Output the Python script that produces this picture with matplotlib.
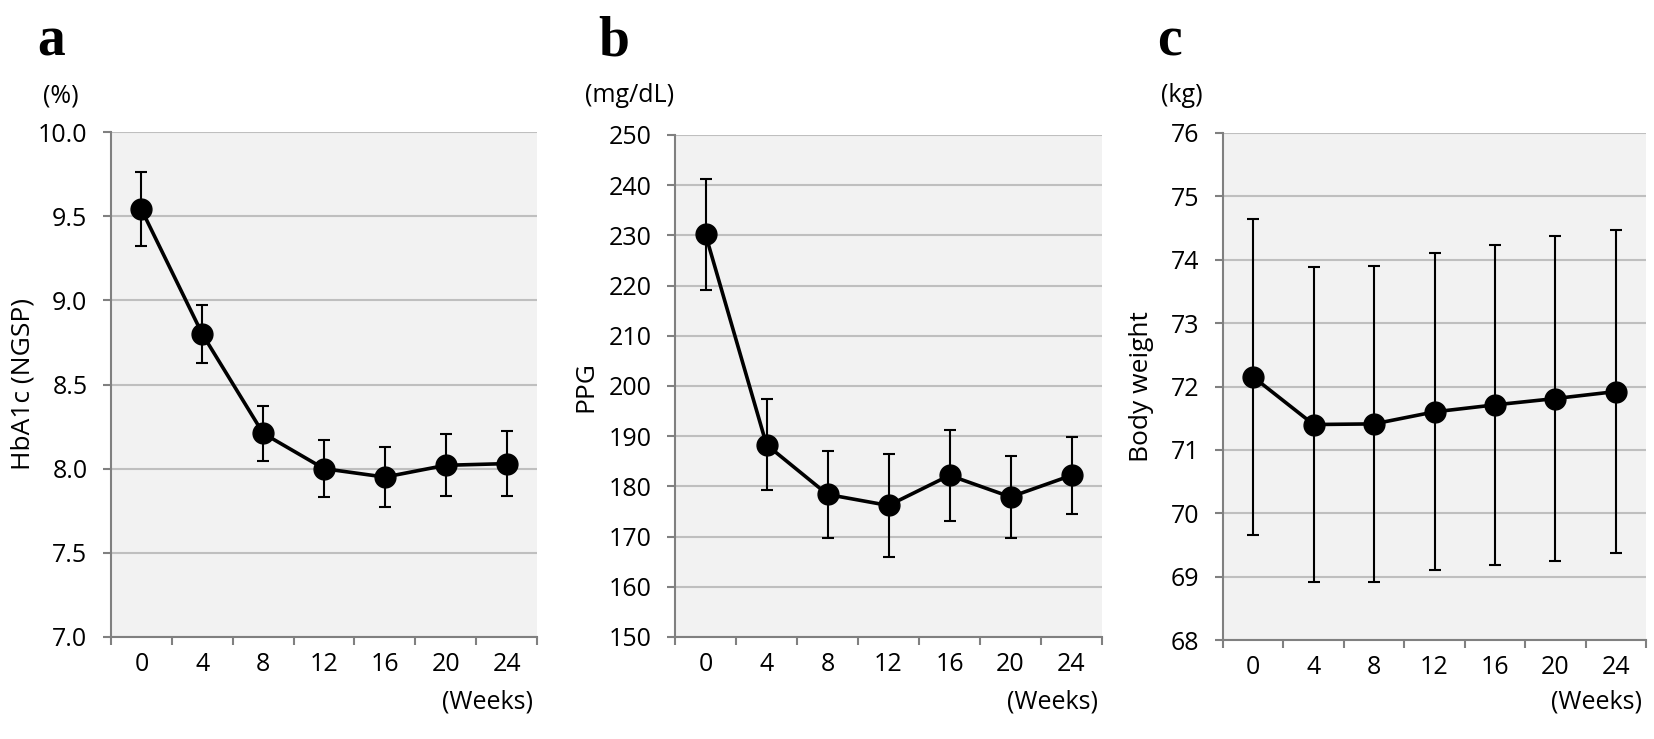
import matplotlib
matplotlib.use("Agg")
import matplotlib.pyplot as plt
from matplotlib.ticker import FixedLocator

weeks = ["0", "4", "8", "12", "16", "20", "24"]

hba1c_mean = [9.54, 8.80, 8.21, 8.00, 7.95, 8.02, 8.03]
hba1c_err = [0.22, 0.17, 0.165, 0.17, 0.18, 0.185, 0.195]

ppg_mean = [230.2, 188.3, 178.4, 176.2, 182.2, 177.9, 182.2]
ppg_err = [11.1, 9.1, 8.7, 10.3, 9.0, 8.2, 7.7]

bw_mean = [72.15, 71.40, 71.41, 71.60, 71.71, 71.81, 71.92]
bw_err = [2.49, 2.48, 2.49, 2.50, 2.53, 2.56, 2.55]

W, H = 1654, 739
fig = plt.figure(figsize=(W / 100, H / 100), dpi=100)

TICK_FONT = "Open Sans"
LABEL_FONT = ["Open Sans", "DejaVu Sans"]
LETTER_FONT = ["Liberation Serif", "DejaVu Serif"]


def fx(x):
    return x / W


def fy(y):
    return 1 - y / H


def panel(box, mean, err, yticks, ylabels, ylabel, unit, letter, letter_x, unit_x, ylabel_x):
    left, top, right, bottom = box
    ax = fig.add_axes([fx(left), fy(bottom), (right - left) / W, (bottom - top) / H])
    ax.set_facecolor("#f2f2f2")
    x = list(range(len(weeks)))
    ax.errorbar(x, mean, yerr=err, fmt="none", ecolor="black", elinewidth=1.5,
                capsize=4.5, capthick=1.5, zorder=3)
    ax.plot(x, mean, color="black", linewidth=2.6, marker="o", markersize=15, zorder=4)
    ax.set_xlim(-0.5, len(weeks) - 0.5)
    ax.set_ylim(yticks[0], yticks[-1])
    ax.set_yticks(yticks)
    ax.set_yticklabels(ylabels, fontsize=18, family=TICK_FONT)
    ax.set_xticks(x)
    ax.set_xticklabels(weeks, fontsize=18, family=TICK_FONT)
    ax.xaxis.set_minor_locator(FixedLocator([i - 0.5 for i in range(len(weeks) + 1)]))
    ax.tick_params(axis="x", which="major", length=0, pad=11)
    ax.tick_params(axis="x", which="minor", length=6, width=1.5, color="#808080")
    ax.tick_params(axis="y", length=6, width=1.5, color="#808080", pad=11)
    ax.grid(axis="y", color="#bfbfbf", linewidth=1.5)
    ax.set_axisbelow(True)
    for side in ("top", "right"):
        ax.spines[side].set_visible(False)
    for side in ("left", "bottom"):
        ax.spines[side].set_color("#808080")
        ax.spines[side].set_linewidth(1.5)
    ax.spines["bottom"].set_zorder(5)
    fig.text(fx(ylabel_x), fy((top + bottom) / 2), ylabel, rotation=90, ha="center",
             va="center", fontsize=19, family=LABEL_FONT, fontweight="medium")
    fig.text(fx(unit_x), fy(96), unit, ha="center", va="center", fontsize=18, family=TICK_FONT)
    fig.text(fx(right - 4), fy(702), "(Weeks)", ha="right", va="center", fontsize=18,
             family=TICK_FONT)
    fig.text(fx(letter_x), fy(55), letter, ha="left", va="baseline", fontsize=40,
             fontweight="bold", family=LETTER_FONT)
    return ax


panel((111, 132, 537, 637), hba1c_mean, hba1c_err,
      [7.0, 7.5, 8.0, 8.5, 9.0, 9.5, 10.0], ["7.0", "7.5", "8.0", "8.5", "9.0", "9.5", "10.0"],
      "HbA1c (NGSP)", "(%)", "a", 37, 61, 23)
panel((675, 135, 1102, 637), ppg_mean, ppg_err,
      list(range(150, 251, 10)), [str(v) for v in range(150, 251, 10)],
      "PPG", "(mg/dL)", "b", 598, 630, 586)
panel((1223, 133, 1646, 640), bw_mean, bw_err,
      list(range(68, 77)), [str(v) for v in range(68, 77)],
      "Body weight", "(kg)", "c", 1157, 1182, 1142)

fig.savefig("out.png", dpi=100)
